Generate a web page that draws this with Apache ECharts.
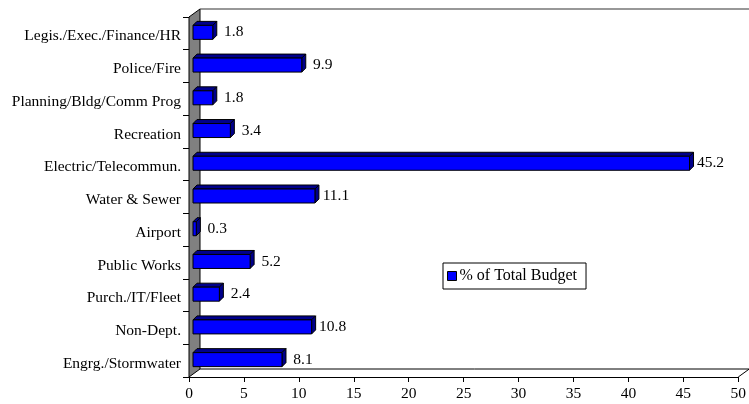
<!DOCTYPE html>
<html>
<head>
<meta charset="utf-8">
<script src="https://cdn.jsdelivr.net/npm/echarts@6/dist/echarts.min.js"></script>
<style>
  html, body { margin: 0; padding: 0; background: #fff; }
  #chart { width: 749px; height: 404px; }
</style>
</head>
<body>
<div id="chart"></div>
<script>
// Departments, top to bottom
const categories = [
  'Legis./Exec./Finance/HR',
  'Police/Fire',
  'Planning/Bldg/Comm Prog',
  'Recreation',
  'Electric/Telecommun.',
  'Water & Sewer',
  'Airport',
  'Public Works',
  'Purch./IT/Fleet',
  'Non-Dept.',
  'Engrg./Stormwater'
];
// Share of the total budget, percent
const budgetShare = [1.8, 9.9, 1.8, 3.4, 45.2, 11.1, 0.3, 5.2, 2.4, 10.8, 8.1];
const seriesName = '% of Total Budget';
const xTicks = { min: 0, max: 50, interval: 5 };

const FONT = '"Liberation Serif", "Times New Roman", serif';
const FONT_SIZE = 15.5;
const DEPTH_X = 11, DEPTH_Y = -8;   // depth of the wall / floor
const BAR_DX = 4, BAR_DY = -4;      // depth of each bar

const chart = echarts.init(document.getElementById('chart'));

// Side wall, floor and back edge drawn behind the bars
function renderFrame(params, api) {
  const cs = params.coordSys;
  const left = cs.x, top = cs.y, right = cs.x + cs.width, bottom = cs.y + cs.height;
  const bx = left + DEPTH_X, by = DEPTH_Y;
  return {
    type: 'group',
    children: [
      { type: 'polygon', shape: { points: [[left, top], [bx, top + by], [bx, bottom + by], [left, bottom]] },
        style: { fill: '#808080', stroke: '#000', lineWidth: 1 } },
      { type: 'line', shape: { x1: bx, y1: top + by, x2: right + DEPTH_X, y2: top + by },
        style: { stroke: '#333', lineWidth: 1.2 } },
      { type: 'line', shape: { x1: bx, y1: bottom + by, x2: right + DEPTH_X, y2: bottom + by },
        style: { stroke: '#000', lineWidth: 1 } },
      { type: 'line', shape: { x1: right, y1: bottom, x2: right + DEPTH_X, y2: bottom + by },
        style: { stroke: '#000', lineWidth: 1 } }
    ]
  };
}

// One extruded bar with its value label
function renderBar(params, api) {
  const idx = api.value(1);
  const val = api.value(0);
  const base = api.coord([0, idx]);
  const end = api.coord([val, idx]);
  const cy = base[1] - 1;
  const h = 14;
  const x0 = base[0] + 4, x1 = end[0] + 4;
  const y0 = cy - h / 2, y1 = cy + h / 2;
  const dark = '#00008b';
  return {
    type: 'group',
    children: [
      { type: 'polygon', shape: { points: [[x0, y0], [x0 + BAR_DX, y0 + BAR_DY], [x1 + BAR_DX, y0 + BAR_DY], [x1, y0]] },
        style: { fill: dark, stroke: '#000', lineWidth: 1 } },
      { type: 'polygon', shape: { points: [[x1, y0], [x1 + BAR_DX, y0 + BAR_DY], [x1 + BAR_DX, y1 + BAR_DY], [x1, y1]] },
        style: { fill: dark, stroke: '#000', lineWidth: 1 } },
      { type: 'rect', shape: { x: x0, y: y0, width: x1 - x0, height: h },
        style: { fill: '#0000ff', stroke: '#000', lineWidth: 1 } },
      { type: 'text', x: end[0] + 25, y: cy,
        style: { text: String(val), fill: '#000', font: FONT_SIZE + 'px ' + FONT, align: 'center', verticalAlign: 'middle' } }
    ]
  };
}

chart.setOption({
  animation: false,
  backgroundColor: '#fff',
  grid: { left: 189, right: 6, top: 17, bottom: 27, containLabel: false },
  legend: {
    left: 443, top: 263,
    orient: 'vertical',
    backgroundColor: '#fff',
    borderColor: '#000', borderWidth: 1,
    padding: [5, 9, 5, 4],
    itemWidth: 9, itemHeight: 9, itemGap: 4,
    textStyle: { fontFamily: FONT, fontSize: 16, color: '#000', padding: [0, 0, 0, -2] },
    data: [{ name: seriesName, icon: 'rect',
      itemStyle: { color: '#0000ff', borderColor: '#000', borderWidth: 1 } }]
  },
  xAxis: {
    type: 'value', min: xTicks.min, max: xTicks.max, interval: xTicks.interval,
    axisLine: { show: true, lineStyle: { color: '#000', width: 1 } },
    axisTick: { show: true, length: 5, lineStyle: { color: '#000' } },
    axisLabel: { color: '#000', fontFamily: FONT, fontSize: FONT_SIZE, margin: 9 },
    splitLine: { show: false }
  },
  yAxis: {
    type: 'category', data: categories, inverse: true,
    axisLine: { show: true, lineStyle: { color: '#000', width: 1 } },
    axisTick: { show: true, length: 6, alignWithLabel: false, lineStyle: { color: '#000' } },
    // labels sit slightly below the band centre
    axisLabel: { color: '#000', fontFamily: FONT, fontSize: FONT_SIZE, margin: 8,
      verticalAlign: 'top', lineHeight: 6 },
    splitLine: { show: false }
  },
  series: [
    {
      type: 'custom', name: 'frame', silent: true, z: 1,
      renderItem: renderFrame,
      data: [[0, 0]],
      encode: { x: 0, y: 1 }
    },
    {
      type: 'custom', name: seriesName, z: 3,
      itemStyle: { color: '#0000ff' },
      renderItem: renderBar,
      data: budgetShare.map((v, i) => [v, i]),
      encode: { x: 0, y: 1 }
    }
  ]
});
</script>
</body>
</html>
